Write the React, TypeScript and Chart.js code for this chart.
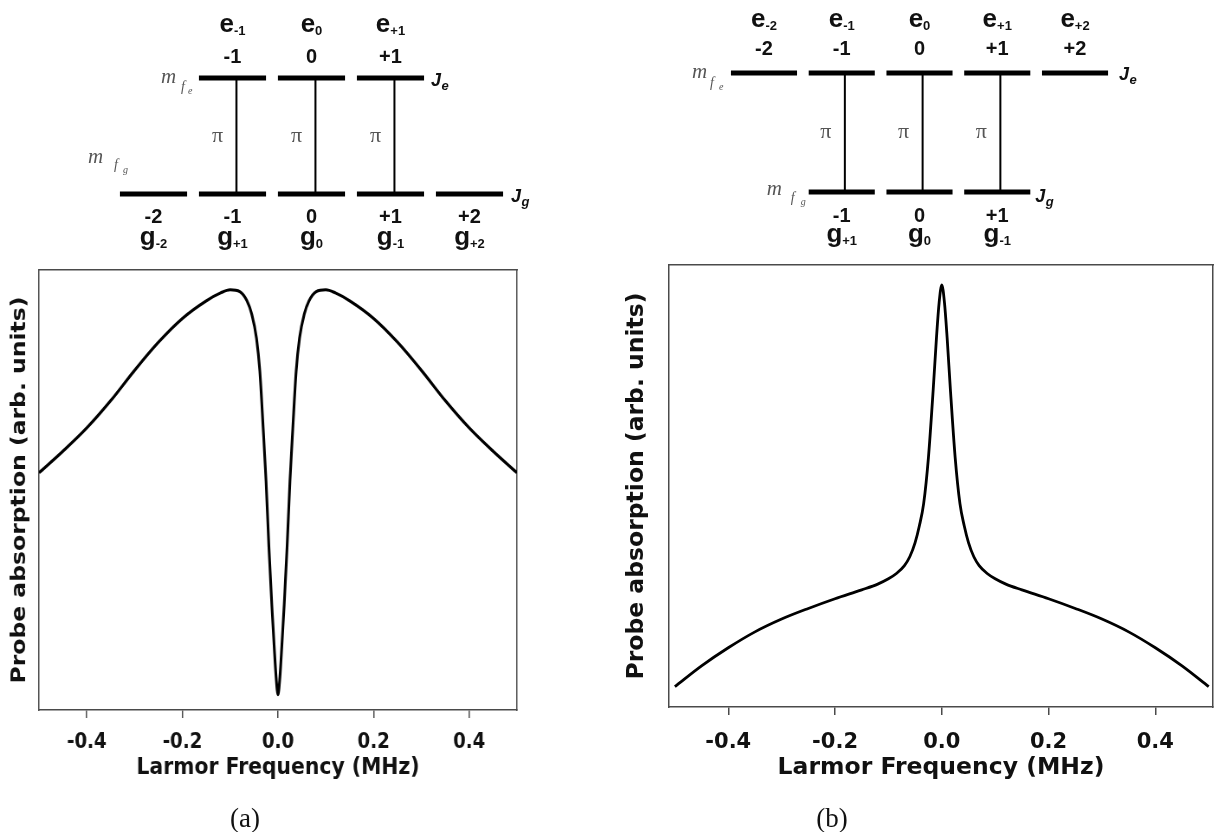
import React, { useEffect, useRef } from "react";
import { Chart, registerables } from "chart.js";

Chart.register(...registerables);

// ---------------- Absorption curves ----------------
// y is relative absorption: 0 = bottom of the frame, 1 = top of the frame
const FREQ_A = [
  -0.5, -0.45, -0.4, -0.35, -0.3, -0.25, -0.2, -0.15, -0.12, -0.1, -0.08, -0.065,
  -0.055, -0.045, -0.038, -0.031, -0.025, -0.019, -0.013, -0.008, -0.004, 0,
  0.004, 0.008, 0.013, 0.019, 0.025, 0.031, 0.038, 0.045, 0.055, 0.065, 0.08,
  0.1, 0.12, 0.15, 0.2, 0.25, 0.3, 0.35, 0.4, 0.45, 0.5,
];
const ABS_A = [
  0.539, 0.588, 0.641, 0.703, 0.772, 0.836, 0.89, 0.93, 0.948, 0.955, 0.951, 0.93,
  0.9, 0.845, 0.77, 0.64, 0.52, 0.37, 0.24, 0.145, 0.075, 0.035,
  0.075, 0.145, 0.24, 0.37, 0.52, 0.64, 0.77, 0.845, 0.9, 0.93, 0.951,
  0.955, 0.948, 0.93, 0.89, 0.836, 0.772, 0.703, 0.641, 0.588, 0.539,
];

const FREQ_B = [
  -0.5, -0.45, -0.4, -0.35, -0.3, -0.25, -0.2, -0.15, -0.12, -0.1, -0.085, -0.07,
  -0.06, -0.05, -0.042, -0.034, -0.025, -0.016, -0.01, -0.005, 0,
  0.005, 0.01, 0.016, 0.025, 0.034, 0.042, 0.05, 0.06, 0.07, 0.085, 0.1, 0.12,
  0.15, 0.2, 0.25, 0.3, 0.35, 0.4, 0.45, 0.5,
];
const ABS_B = [
  0.046, 0.093, 0.134, 0.17, 0.199, 0.223, 0.245, 0.265, 0.278, 0.29, 0.302, 0.32,
  0.34, 0.372, 0.41, 0.46, 0.565, 0.72, 0.835, 0.915, 0.955,
  0.915, 0.835, 0.72, 0.565, 0.46, 0.41, 0.372, 0.34, 0.32, 0.302, 0.29, 0.278,
  0.265, 0.245, 0.223, 0.199, 0.17, 0.134, 0.093, 0.046,
];

const X_TICKS = [-0.4, -0.2, 0, 0.2, 0.4];
const X_TITLE = "Larmor Frequency (MHz)";
const Y_TITLE = "Probe absorption (arb. units)";

// ---------------- Level diagrams ----------------
const A_EXCITED = [-1, 0, 1];
const A_EXCITED_NAMES = ["-1", "0", "+1"];
const A_GROUND = [-2, -1, 0, 1, 2];
const A_GROUND_NAMES = ["-2", "+1", "0", "-1", "+2"];
const A_PI = [-1, 0, 1];

const B_EXCITED = [-2, -1, 0, 1, 2];
const B_EXCITED_NAMES = ["-2", "-1", "0", "+1", "+2"];
const B_GROUND = [-1, 0, 1];
const B_GROUND_NAMES = ["+1", "0", "-1"];
const B_PI = [-1, 0, 1];

// ---------------- styles ----------------
const AXIS_COLOR = "#4a4a4a";
const TEXT_COLOR = "#111";
const SANS = "'DejaVu Sans', sans-serif";
const ARIAL = "'Liberation Sans', Arial, sans-serif";
const SERIF = "'Liberation Serif', 'Times New Roman', serif";
const HALF_BAR = 0.425;

const fmt = (m: number) => (m > 0 ? `+${m}` : `${m}`);

function drawCentered(ctx: CanvasRenderingContext2D, x: number, y: number, text: string, font: string) {
  ctx.font = font;
  ctx.textAlign = "center";
  ctx.fillText(text, x, y);
}

function drawSub(
  ctx: CanvasRenderingContext2D,
  cx: number,
  y: number,
  main: string,
  sub: string,
  mainFont: string,
  subFont: string,
  subDy: number
) {
  ctx.textAlign = "left";
  ctx.font = mainFont;
  const w1 = ctx.measureText(main).width;
  ctx.font = subFont;
  const w2 = ctx.measureText(sub).width;
  const start = cx - (w1 + w2) / 2;
  ctx.font = mainFont;
  ctx.fillText(main, start, y);
  ctx.font = subFont;
  ctx.fillText(sub, start + w1, y + subDy);
}

type MLabel = { dx: number; dy: number; fdx: number; fdy: number; sdx: number; sdy: number; sub: string };

type DiagramCfg = {
  left: number;
  width: number;
  height: number;
  xMin: number;
  xMax: number;
  yMin: number;
  yMax: number;
  excited: number[];
  excitedNames: string[];
  ground: number[];
  groundNames: string[];
  pi: number[];
  piShift: number;
  mTopDy: number;
  mBotDy: number;
  eDy: number;
  gDy: number;
  je: { dx: number; dy: number };
  jg: { dx: number; dy: number };
  mfe: MLabel;
  mfg: MLabel;
};

function drawM(ctx: CanvasRenderingContext2D, x: number, y: number, l: MLabel) {
  ctx.fillStyle = "#555";
  ctx.textAlign = "left";
  ctx.font = `italic 21px ${SERIF}`;
  ctx.fillText("m", x, y);
  ctx.font = `italic 14px ${SERIF}`;
  ctx.fillText("f", x + l.fdx, y + l.fdy);
  ctx.font = `italic 10px ${SERIF}`;
  ctx.fillText(l.sub, x + l.sdx, y + l.sdy);
}

function drawJ(ctx: CanvasRenderingContext2D, x: number, y: number, sub: string) {
  ctx.fillStyle = TEXT_COLOR;
  ctx.textAlign = "left";
  ctx.font = `italic bold 18px ${ARIAL}`;
  ctx.fillText("J", x, y);
  const w = ctx.measureText("J").width;
  ctx.font = `italic bold 13px ${ARIAL}`;
  ctx.fillText(sub, x + w + 0.5, y + 4);
}

function diagramPlugin(cfg: DiagramCfg) {
  return {
    id: "levelLabels",
    afterDatasetsDraw(chart: any) {
      const ctx: CanvasRenderingContext2D = chart.ctx;
      const xs = chart.scales.x;
      const ys = chart.scales.y;
      const yE = ys.getPixelForValue(1);
      const yG = ys.getPixelForValue(0);
      ctx.save();
      ctx.textBaseline = "alphabetic";
      ctx.fillStyle = TEXT_COLOR;
      const digit = `bold 20px ${ARIAL}`;
      const big = `bold 26px ${ARIAL}`;
      const small = `bold 13px ${ARIAL}`;
      cfg.excited.forEach((m, i) => {
        const x = xs.getPixelForValue(m);
        drawCentered(ctx, x, yE + cfg.mTopDy, fmt(m), digit);
        drawSub(ctx, x, yE + cfg.eDy, "e", cfg.excitedNames[i], big, small, 3);
      });
      cfg.ground.forEach((m, i) => {
        const x = xs.getPixelForValue(m);
        drawCentered(ctx, x, yG + cfg.mBotDy, fmt(m), digit);
        drawSub(ctx, x, yG + cfg.gDy, "g", cfg.groundNames[i], big, small, 3);
      });
      ctx.fillStyle = "#555";
      ctx.textBaseline = "middle";
      cfg.pi.forEach((m) => {
        const x = xs.getPixelForValue(m + cfg.piShift);
        drawCentered(ctx, x - 19, (yE + yG) / 2, "\u03C0", `22px ${SERIF}`);
      });
      ctx.textBaseline = "alphabetic";
      const eRight = xs.getPixelForValue(Math.max(...cfg.excited) + HALF_BAR);
      const gRight = xs.getPixelForValue(Math.max(...cfg.ground) + HALF_BAR);
      drawJ(ctx, eRight + cfg.je.dx, yE + cfg.je.dy, "e");
      drawJ(ctx, gRight + cfg.jg.dx, yG + cfg.jg.dy, "g");
      const eLeft = xs.getPixelForValue(Math.min(...cfg.excited) - HALF_BAR);
      const gLeft = xs.getPixelForValue(Math.min(...cfg.ground) - HALF_BAR);
      drawM(ctx, eLeft + cfg.mfe.dx, yE + cfg.mfe.dy, cfg.mfe);
      drawM(ctx, gLeft + cfg.mfg.dx, yG + cfg.mfg.dy, cfg.mfg);
      ctx.restore();
    },
  };
}

function LevelDiagram({ cfg }: { cfg: DiagramCfg }) {
  const ref = useRef<HTMLCanvasElement | null>(null);
  useEffect(() => {
    if (!ref.current) return;
    const datasets: any[] = [];
    const level = (m: number, y: number) => ({
      data: [
        { x: m - HALF_BAR, y },
        { x: m + HALF_BAR, y },
      ],
      borderColor: "#000",
      borderWidth: 5,
      borderCapStyle: "butt",
      pointRadius: 0,
      xAxisID: "x",
      yAxisID: "y",
    });
    cfg.excited.forEach((m) => datasets.push(level(m, 1)));
    cfg.ground.forEach((m) => datasets.push(level(m, 0)));
    cfg.pi.forEach((m) =>
      datasets.push({
        data: [
          { x: m + cfg.piShift, y: 0 },
          { x: m + cfg.piShift, y: 1 },
        ],
        borderColor: "#000",
        borderWidth: 2,
        pointRadius: 0,
        xAxisID: "x",
        yAxisID: "y",
      })
    );
    const chart = new Chart(ref.current, {
      type: "line",
      data: { datasets },
      options: {
        animation: false,
        responsive: false,
        events: [],
        layout: { padding: 0 },
        plugins: { legend: { display: false }, tooltip: { enabled: false } },
        scales: {
          x: { type: "linear", display: false, min: cfg.xMin, max: cfg.xMax },
          y: { type: "linear", display: false, min: cfg.yMin, max: cfg.yMax },
        },
      } as any,
      plugins: [diagramPlugin(cfg) as any],
    });
    return () => chart.destroy();
  }, [cfg]);
  return (
    <canvas
      ref={ref}
      width={cfg.width}
      height={cfg.height}
      style={{ position: "absolute", left: cfg.left, top: 0, width: cfg.width, height: cfg.height }}
    />
  );
}

type CurveCfg = {
  left: number;
  top: number;
  width: number;
  height: number;
  squeeze: number;
  lineWidth: number;
  freq: number[];
  abs: number[];
  xMin: number;
  xMax: number;
  padding: { left: number; top: number; right: number; bottom: number };
  yAxisWidth: number;
  xAxisHeight: number;
  yTitlePad: number;
  xTitlePad: number;
  tickPad: number;
};

function AbsorptionChart({ cfg }: { cfg: CurveCfg }) {
  const ref = useRef<HTMLCanvasElement | null>(null);
  useEffect(() => {
    if (!ref.current) return;
    const border = { display: true, color: AXIS_COLOR, width: 1.5 };
    const frameAxis = (position: string, min: number, max: number, fit: (s: any) => void) => ({
      type: "linear",
      position,
      min,
      max,
      afterFit: fit,
      ticks: { display: false },
      grid: { display: false },
      border,
    });
    const chart = new Chart(ref.current, {
      type: "line",
      data: {
        datasets: [
          {
            data: cfg.freq.map((f, i) => ({ x: f, y: cfg.abs[i] })),
            borderColor: "#000",
            borderWidth: cfg.lineWidth,
            pointRadius: 0,
            fill: false,
            cubicInterpolationMode: "monotone",
            xAxisID: "x",
            yAxisID: "y",
          },
        ],
      },
      options: {
        animation: false,
        responsive: false,
        events: [],
        layout: { padding: cfg.padding },
        plugins: { legend: { display: false }, tooltip: { enabled: false }, title: { display: false } },
        scales: {
          x: {
            type: "linear",
            position: "bottom",
            min: cfg.xMin,
            max: cfg.xMax,
            afterBuildTicks: (s: any) => {
              s.ticks = X_TICKS.map((v) => ({ value: v }));
            },
            afterFit: (s: any) => {
              s.height = cfg.xAxisHeight;
            },
            ticks: {
              callback: (v: any) => Number(v).toFixed(1),
              font: { family: SANS, weight: "bold", size: 21 },
              color: TEXT_COLOR,
              padding: cfg.tickPad,
              maxRotation: 0,
              autoSkip: false,
            },
            grid: {
              display: true,
              drawOnChartArea: false,
              drawTicks: true,
              tickLength: 8,
              color: AXIS_COLOR,
              lineWidth: 1.5,
            },
            border,
            title: {
              display: true,
              text: X_TITLE,
              color: TEXT_COLOR,
              font: { family: SANS, weight: "bold", size: 23.5 },
              padding: { top: 0, bottom: cfg.xTitlePad },
            },
          },
          y: {
            type: "linear",
            position: "left",
            min: 0,
            max: 1,
            afterFit: (s: any) => {
              s.width = cfg.yAxisWidth;
            },
            ticks: { display: false },
            grid: { display: false },
            border,
            title: {
              display: true,
              text: Y_TITLE,
              color: TEXT_COLOR,
              font: { family: SANS, weight: "bold", size: 23.5 },
              padding: { top: cfg.yTitlePad, bottom: 0 },
            },
          },
          xTop: frameAxis("top", cfg.xMin, cfg.xMax, (s: any) => {
            s.height = 0;
          }),
          yRight: frameAxis("right", 0, 1, (s: any) => {
            s.width = 0;
          }),
        },
      } as any,
    });
    return () => chart.destroy();
  }, [cfg]);
  return (
    <canvas
      ref={ref}
      width={cfg.width}
      height={cfg.height}
      style={{
        position: "absolute",
        left: cfg.left,
        top: cfg.top,
        width: cfg.width,
        height: cfg.height,
        transform: `scaleX(${cfg.squeeze})`,
        transformOrigin: "0 0",
      }}
    />
  );
}

const DIAGRAM_A: DiagramCfg = {
  left: 0,
  width: 600,
  height: 255,
  xMin: -3.943,
  xMax: 3.652,
  yMin: -0.526,
  yMax: 1.672,
  excited: A_EXCITED,
  excitedNames: A_EXCITED_NAMES,
  ground: A_GROUND,
  groundNames: A_GROUND_NAMES,
  pi: A_PI,
  piShift: 0.05,
  mTopDy: -15,
  mBotDy: 29,
  eDy: -46,
  gDy: 51,
  je: { dx: 7, dy: 8 },
  jg: { dx: 8, dy: 8 },
  mfe: { dx: -38, dy: 5, fdx: 20, fdy: 8, sdx: 27, sdy: 11, sub: "e" },
  mfg: { dx: -32, dy: -31, fdx: 26, fdy: 6, sdx: 35, sdy: 10, sub: "g" },
};

const DIAGRAM_B: DiagramCfg = {
  left: 600,
  width: 617,
  height: 255,
  xMin: -4.109,
  xMax: 3.826,
  yMin: -0.529,
  yMax: 1.613,
  excited: B_EXCITED,
  excitedNames: B_EXCITED_NAMES,
  ground: B_GROUND,
  groundNames: B_GROUND_NAMES,
  pi: B_PI,
  piShift: 0.04,
  mTopDy: -18,
  mBotDy: 30,
  eDy: -46,
  gDy: 50,
  je: { dx: 11, dy: 7 },
  jg: { dx: 5, dy: 10 },
  mfe: { dx: -39, dy: 5, fdx: 18, fdy: 9, sdx: 27, sdy: 12, sub: "e" },
  mfg: { dx: -42, dy: 3, fdx: 24, fdy: 7, sdx: 34, sdy: 10, sub: "g" },
};

const CURVE_A: CurveCfg = {
  left: 0,
  top: 250,
  width: 612,
  height: 560,
  squeeze: 0.866,
  lineWidth: 3.1,
  freq: FREQ_A,
  abs: ABS_A,
  xMin: -0.5,
  xMax: 0.5,
  padding: { left: 0, top: 20, right: 15, bottom: 20 },
  yAxisWidth: 45,
  xAxisHeight: 80,
  yTitlePad: 9,
  xTitlePad: 8,
  tickPad: 12,
};

const CURVE_B: CurveCfg = {
  left: 612,
  top: 250,
  width: 605,
  height: 560,
  squeeze: 1,
  lineWidth: 2.8,
  freq: FREQ_B,
  abs: ABS_B,
  xMin: -0.511,
  xMax: 0.508,
  padding: { left: 0, top: 15, right: 4, bottom: 23 },
  yAxisWidth: 57,
  xAxisHeight: 80,
  yTitlePad: 11,
  xTitlePad: 5,
  tickPad: 15,
};

const captionStyle = (cx: number): React.CSSProperties => ({
  position: "absolute",
  left: cx - 50,
  top: 803,
  width: 100,
  textAlign: "center",
  fontFamily: SERIF,
  fontSize: 27,
  lineHeight: "30px",
  color: "#111",
});

export default function App() {
  return (
    <div
      style={{
        position: "fixed",
        left: 0,
        top: 0,
        width: 1217,
        height: 832,
        background: "#fff",
        overflow: "hidden",
      }}
    >
      <LevelDiagram cfg={DIAGRAM_A} />
      <LevelDiagram cfg={DIAGRAM_B} />
      <AbsorptionChart cfg={CURVE_A} />
      <AbsorptionChart cfg={CURVE_B} />
      <div style={captionStyle(245)}>(a)</div>
      <div style={captionStyle(832)}>(b)</div>
    </div>
  );
}
